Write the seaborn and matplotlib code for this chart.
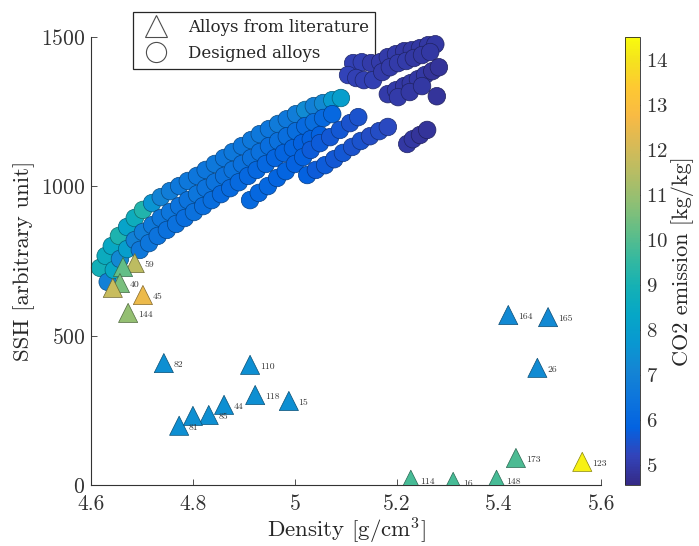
import numpy as np
import pandas as pd
import matplotlib
matplotlib.use("Agg")
import matplotlib.pyplot as plt
import seaborn as sns
from matplotlib.colors import LinearSegmentedColormap, Normalize
from matplotlib.cm import ScalarMappable
from matplotlib.lines import Line2D

# ---------------- data ----------------
# Designed alloys (circles): density [g/cm3], SSH [arb. unit], CO2 [kg/kg]
row1_density = [4.618, 4.629, 4.641, 4.655, 4.671, 4.686, 4.702, 4.720, 4.737, 4.755,
                4.773, 4.790, 4.808, 4.825, 4.843, 4.861, 4.878, 4.896, 4.914, 4.931,
                4.949, 4.967, 4.984, 5.002, 5.020, 5.037, 5.055, 5.073, 5.090]
row1_ssh = [727, 767, 800, 834, 864, 894, 921, 944, 964, 984,
            1001, 1018, 1035, 1055, 1075, 1095, 1115, 1135, 1155, 1175,
            1192, 1209, 1225, 1242, 1256, 1269, 1279, 1289, 1296]
row1_co2 = [8.9, 8.6, 8.4, 9.1, 8.2, 8.7, 9.2, 7.6, 7.0, 6.8,
            6.6, 6.6, 6.5, 6.5, 6.6, 6.5, 6.6, 6.5, 6.6, 6.6,
            6.5, 6.7, 6.6, 6.8, 7.3, 6.9, 7.2, 7.8, 8.0]

row2_density = [4.633, 4.645, 4.657, 4.671, 4.686, 4.702, 4.720, 4.737, 4.755, 4.773,
                4.790, 4.808, 4.825, 4.843, 4.861, 4.878, 4.896, 4.914, 4.931, 4.949,
                4.967, 4.984, 5.002, 5.020, 5.037, 5.055, 5.073]
row2_ssh = [680, 720, 757, 790, 820, 847, 870, 894, 914, 934,
            954, 974, 994, 1014, 1035, 1055, 1075, 1095, 1115, 1135,
            1152, 1168, 1185, 1202, 1215, 1229, 1242]
row2_co2 = [6.9, 8.4, 7.2, 8.0, 6.9, 6.8, 6.6, 6.5, 6.5, 6.4,
            6.4, 6.5, 6.4, 6.4, 6.3, 6.4, 6.3, 6.3, 6.3, 6.2,
            6.3, 6.2, 6.2, 6.1, 6.2, 6.1, 6.0]

row3_density = [4.696, 4.714, 4.731, 4.749, 4.767, 4.784, 4.802, 4.820, 4.837, 4.855,
                4.873, 4.890, 4.908, 4.925, 4.943, 4.961, 4.978, 4.996, 5.014, 5.031, 5.049]
row3_ssh = [787, 810, 834, 854, 874, 894, 914, 934, 954, 974,
            994, 1014, 1035, 1055, 1075, 1095, 1112, 1128, 1145, 1158, 1172]
row3_co2 = [6.6, 6.5, 6.4, 6.3, 6.3, 6.2, 6.3, 6.2, 6.2, 6.1,
            6.1, 6.1, 6.0, 6.0, 6.0, 5.9, 5.9, 5.9, 5.8, 5.8, 5.8]

band2_density = [4.912, 4.929, 4.947, 4.965, 4.982, 5.000, 5.016, 5.031, 5.049, 5.069,
                 5.088, 5.108, 5.124]
band2_ssh = [954, 978, 1001, 1028, 1051, 1075, 1098, 1122, 1145, 1165, 1189, 1212, 1232]
band2_co2 = [6.1, 6.0, 6.0, 5.9, 5.9, 5.8, 5.8, 5.7, 5.7, 5.6, 5.6, 5.5, 5.5]

band3_density = [5.024, 5.041, 5.059, 5.077, 5.094, 5.112, 5.129, 5.147, 5.165, 5.182]
band3_ssh = [1038, 1055, 1071, 1091, 1112, 1132, 1152, 1168, 1185, 1199]
band3_co2 = [5.8, 5.7, 5.7, 5.6, 5.6, 5.5, 5.5, 5.4, 5.4, 5.3]

bandA_density = [5.114, 5.131, 5.149, 5.167, 5.182, 5.198, 5.214, 5.229, 5.245, 5.261, 5.275,
                 5.104, 5.120, 5.135, 5.153, 5.171, 5.186, 5.202, 5.218, 5.233, 5.249, 5.265]
bandA_ssh = [1413, 1416, 1413, 1416, 1433, 1443, 1453, 1456, 1463, 1473, 1476,
             1373, 1363, 1356, 1356, 1383, 1399, 1413, 1420, 1430, 1440, 1450]
bandA_co2 = [5.1, 5.1, 5.0, 5.0, 5.0, 5.0, 4.9, 4.9, 4.9, 4.9, 4.9,
             5.2, 5.1, 5.1, 5.1, 5.0, 5.0, 5.0, 5.0, 4.9, 4.9, 4.9]

bandB_density = [5.182, 5.198, 5.214, 5.227, 5.241, 5.255, 5.269, 5.282,
                 5.202, 5.225, 5.249, 5.278, 5.220, 5.231, 5.245, 5.259]
bandB_ssh = [1309, 1322, 1336, 1346, 1359, 1373, 1386, 1399,
             1299, 1316, 1336, 1302, 1142, 1158, 1172, 1189]
bandB_co2 = [5.0, 5.0, 4.9, 4.9, 4.9, 4.9, 4.8, 4.8,
             5.0, 4.9, 4.9, 4.8, 4.9, 4.9, 4.8, 4.8]

# Alloys from literature (triangles)
lit_density = [4.686, 4.663, 4.657, 4.643, 4.702, 4.673, 4.743, 4.912, 4.922, 4.988,
               4.861, 4.831, 4.800, 4.773, 5.418, 5.496, 5.475, 5.227, 5.310, 5.395,
               5.433, 5.563]
lit_ssh = [743, 730, 676, 660, 636, 576, 408, 402, 301, 281,
           268, 234, 231, 198, 569, 562, 392, 17, 10, 17,
           90, 77]
lit_co2 = [11.6, 10.2, 10.5, 11.8, 12.5, 10.9, 7.4, 7.4, 7.4, 7.4,
           7.4, 7.4, 7.4, 7.4, 7.2, 7.2, 7.3, 9.8, 9.8, 9.8,
           9.9, 14.3]
lit_label = ["59", "", "40", "", "45", "144", "82", "110", "118", "15",
             "44", "85", "", "81", "164", "165", "26", "114", "16", "148",
             "173", "123"]

colorbar_ticks = [5, 6, 7, 8, 9, 10, 11, 12, 13, 14]

# ---------------- style ----------------
sns.set_theme(style="white")
plt.rcParams.update({
    "font.family": "serif",
    "font.serif": ["cmr10", "DejaVu Serif"],
    "mathtext.fontset": "cm",
    "axes.formatter.use_mathtext": True,
    "axes.unicode_minus": False,
})

parula_anchors = [
    (0.2081, 0.1663, 0.5292), (0.1959, 0.2645, 0.7279), (0.0117, 0.3875, 0.8820),
    (0.0498, 0.4586, 0.8641), (0.0793, 0.5200, 0.8312), (0.0343, 0.5966, 0.8199),
    (0.0228, 0.6535, 0.7768), (0.0843, 0.6928, 0.7062), (0.2178, 0.7250, 0.6193),
    (0.3953, 0.7459, 0.5244), (0.5709, 0.7485, 0.4494), (0.7184, 0.7411, 0.3905),
    (0.8507, 0.7299, 0.3360), (0.9739, 0.7314, 0.2666), (0.9955, 0.7861, 0.1967),
    (0.9589, 0.8949, 0.1132), (0.9763, 0.9831, 0.0538)]
pos = [i * 4 / 63 for i in range(16)] + [1.0]
parula = LinearSegmentedColormap.from_list("parula", list(zip(pos, parula_anchors)), N=256)
norm = Normalize(vmin=4.55, vmax=14.5)

circ = pd.DataFrame({
    "density": row1_density + row2_density + row3_density + band2_density
               + band3_density + bandA_density + bandB_density,
    "ssh": row1_ssh + row2_ssh + row3_ssh + band2_ssh + band3_ssh + bandA_ssh + bandB_ssh,
    "co2": row1_co2 + row2_co2 + row3_co2 + band2_co2 + band3_co2 + bandA_co2 + bandB_co2,
})
lit = pd.DataFrame({"density": lit_density, "ssh": lit_ssh, "co2": lit_co2, "label": lit_label})

fig = plt.figure(figsize=(6.99, 5.46), dpi=100)
ax = fig.add_axes([0.130, 0.112, 0.730, 0.820])
cax = fig.add_axes([0.894, 0.112, 0.022, 0.820])

sns.scatterplot(data=circ, x="density", y="ssh", hue="co2", palette=parula, hue_norm=norm,
                s=160, marker="o", linewidth=0.5, legend=False, ax=ax, zorder=2)
coll = ax.collections[-1]
fc = coll.get_facecolors()
ec = fc.copy()
ec[:, :3] *= 0.6
coll.set_edgecolors(ec)
coll.set_clip_on(False)

sns.scatterplot(data=lit, x="density", y="ssh", hue="co2", palette=parula, hue_norm=norm,
                s=190, marker="^", linewidth=0.5, legend=False, ax=ax, zorder=3)
tcoll = ax.collections[-1]
tfc = tcoll.get_facecolors()
tec = tfc.copy()
tec[:, :3] *= 0.55
tcoll.set_edgecolors(tec)

for d, s, lab in zip(lit_density, lit_ssh, lit_label):
    if lab:
        ax.annotate(lab, (d, s), xytext=(7, -1.5), textcoords="offset points",
                    fontsize=7, va="center", ha="left", color="0.2", zorder=4)

ax.set_xlim(4.6, 5.6)
ax.set_ylim(0, 1500)
ax.set_xticks([4.6, 4.8, 5.0, 5.2, 5.4, 5.6])
ax.set_xticklabels(["4.6", "4.8", "5", "5.2", "5.4", "5.6"])
ax.set_yticks([0, 500, 1000, 1500])
ax.set_xlabel("Density [g/cm$^3$]", fontsize=16.5, color="0.15", labelpad=1)
ax.set_ylabel("SSH [arbitrary unit]", fontsize=16.5, color="0.15", labelpad=4)
for sp in ["top", "right"]:
    ax.spines[sp].set_visible(False)
for sp in ["left", "bottom"]:
    ax.spines[sp].set_color("0.2")
    ax.spines[sp].set_linewidth(0.8)
ax.tick_params(direction="in", length=4, width=0.6, labelsize=15.5, colors="0.2",
               top=False, right=False, left=True, bottom=True)
ax.tick_params(axis="x", pad=7)
ax.tick_params(axis="y", pad=4)

sm = ScalarMappable(norm=norm, cmap=parula)
cbar = fig.colorbar(sm, cax=cax)
cbar.set_ticks(colorbar_ticks)
cbar.ax.tick_params(direction="in", length=3, width=0.6, labelsize=15, colors="0.2", pad=4)
cbar.outline.set_linewidth(0.6)
cbar.set_label("CO2 emission [kg/kg]", fontsize=16, color="0.15", labelpad=2)

handles = [
    Line2D([], [], marker="^", linestyle="none", markersize=16, markerfacecolor="white",
           markeredgecolor="0.3", markeredgewidth=0.8, label="Alloys from literature"),
    Line2D([], [], marker="o", linestyle="none", markersize=14.5, markerfacecolor="white",
           markeredgecolor="0.3", markeredgewidth=0.8, label="Designed alloys"),
]
leg = ax.legend(handles=handles, loc="upper left", bbox_to_anchor=(0.082, 1.056),
                frameon=True, fancybox=False, edgecolor="0.15", framealpha=1,
                prop={"family": "DejaVu Serif", "size": 12.0}, handletextpad=0.9,
                borderpad=0.4, labelspacing=0.55, handlelength=2.0, borderaxespad=0)
leg.get_frame().set_linewidth(0.9)
leg.set_zorder(1)

fig.savefig("out.png", dpi=100)
